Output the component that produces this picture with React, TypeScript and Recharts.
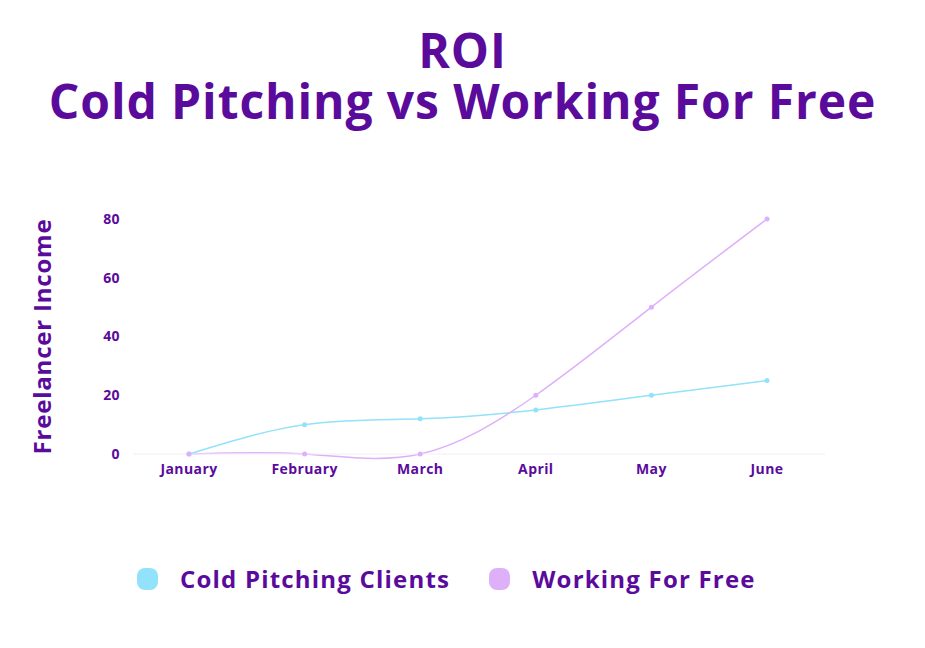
import { LineChart, Line, XAxis, YAxis } from 'recharts';

const months = ['January', 'February', 'March', 'April', 'May', 'June'];
const coldPitching = [0, 10, 12, 15, 20, 25];
const workingForFree = [0, 0, 0, 20, 50, 80];
const yTicks = [0, 20, 40, 60, 80];

const PURPLE = '#5a0b9c';
const CYAN = '#91e2fa';
const LAVENDER = '#dfb0fa';
const FONT = '"Open Sans", sans-serif';

const data = months.map((m, i) => ({
  month: m,
  cold: coldPitching[i],
  free: workingForFree[i],
}));

const legendItems = [
  { label: 'Cold Pitching Clients', color: CYAN },
  { label: 'Working For Free', color: LAVENDER },
];

export default function App() {
  return (
    <div
      style={{
        position: 'absolute',
        top: 0,
        left: 0,
        width: 925,
        height: 648,
        background: '#fff',
        fontFamily: FONT,
        color: PURPLE,
      }}
    >
      <div
        style={{
          position: 'absolute',
          top: 24,
          left: 0,
          width: 925,
          textAlign: 'center',
          fontWeight: 700,
          fontSize: 48,
          lineHeight: '51px',
          letterSpacing: 0.9,
        }}
      >
        <div>ROI</div>
        <div>Cold Pitching vs Working For Free</div>
      </div>

      <div style={{ position: 'absolute', top: 0, left: 0 }}>
        <LineChart
          width={925}
          height={648}
          data={data}
          margin={{ top: 219, right: 100, bottom: 154, left: 73 }}
        >
          <XAxis
            dataKey="month"
            padding={{ left: 56, right: 58 }}
            axisLine={{ stroke: '#f1eef7' }}
            tickLine={false}
            tickSize={0}
            tickMargin={10}
            tick={{ fontSize: 14, fontWeight: 700, fill: PURPLE, fontFamily: FONT, letterSpacing: 0.4 }}
            height={40}
          />
          <YAxis
            width={60}
            domain={[0, 80]}
            ticks={yTicks}
            axisLine={false}
            tickLine={false}
            tickSize={0}
            tickMargin={13}
            tick={{ fontSize: 14, fontWeight: 700, fill: PURPLE, fontFamily: FONT, letterSpacing: 0.4 }}
            label={{
              value: 'Freelancer Income',
              angle: -90,
              position: 'left',
              offset: 31,
              style: {
                fontSize: 24,
                fontWeight: 700,
                fill: PURPLE,
                fontFamily: FONT,
                textAnchor: 'middle',
                letterSpacing: 0.8,
              },
            }}
          />
          <Line
            type="natural"
            dataKey="cold"
            stroke={CYAN}
            strokeWidth={1.5}
            dot={{ r: 2.5, fill: CYAN, stroke: CYAN, strokeWidth: 0 }}
            activeDot={false}
            isAnimationActive={false}
          />
          <Line
            type="natural"
            dataKey="free"
            stroke={LAVENDER}
            strokeWidth={1.5}
            dot={{ r: 2.5, fill: LAVENDER, stroke: LAVENDER, strokeWidth: 0 }}
            activeDot={false}
            isAnimationActive={false}
          />
        </LineChart>
      </div>

      <div
        style={{
          position: 'absolute',
          top: 562,
          left: 137,
          display: 'flex',
          alignItems: 'center',
          fontSize: 24,
          fontWeight: 700,
          letterSpacing: 1.2,
        }}
      >
        {legendItems.map((item) => (
          <div key={item.label} style={{ display: 'flex', alignItems: 'center', marginRight: 39 }}>
            <span
              style={{
                display: 'inline-block',
                width: 21,
                height: 22,
                borderRadius: 8,
                background: item.color,
                marginRight: 22,
              }}
            />
            <span>{item.label}</span>
          </div>
        ))}
      </div>
    </div>
  );
}
